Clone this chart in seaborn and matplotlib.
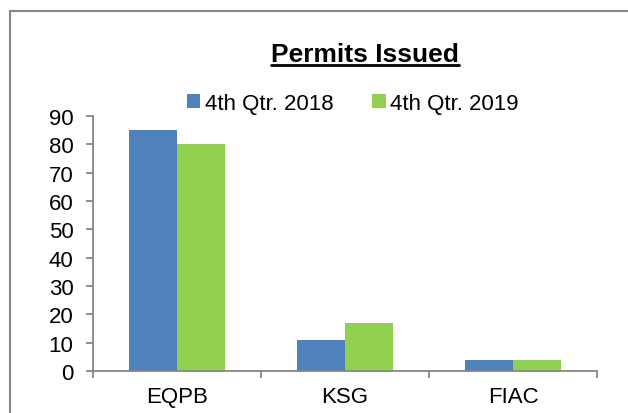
import pandas as pd
import seaborn as sns
import matplotlib.pyplot as plt
from matplotlib.lines import Line2D
from matplotlib.patches import Rectangle

categories = ['EQPB', 'KSG', 'FIAC']
q4_2018 = [85, 11, 4]
q4_2019 = [80, 17, 4]
series_names = ['4th Qtr. 2018', '4th Qtr. 2019']

df = pd.DataFrame({
    'agency': categories * 2,
    'permits': q4_2018 + q4_2019,
    'quarter': [series_names[0]] * 3 + [series_names[1]] * 3,
})

sns.set_style('white')
plt.rcParams['font.family'] = ['Liberation Sans', 'DejaVu Sans']
plt.rcParams['text.color'] = 'black'
plt.rcParams['xtick.color'] = 'black'
plt.rcParams['ytick.color'] = 'black'

fig = plt.figure(figsize=(6.28, 4.14), dpi=100)
ax = fig.add_axes([0.148, 0.1014, 0.803, 0.616])

sns.barplot(data=df, x='agency', y='permits', hue='quarter', ax=ax,
            palette=['#4F81BD', '#92D050'], width=0.57, gap=0, saturation=1,
            edgecolor='none')

ax.set_ylim(0, 90)
ax.set_xlim(-0.5, 2.5)
ax.set_yticks(range(0, 91, 10))
ax.set_xlabel('')
ax.set_ylabel('')

for side in ['top', 'right']:
    ax.spines[side].set_visible(False)
for side in ['left', 'bottom']:
    ax.spines[side].set_color('#868686')
    ax.spines[side].set_linewidth(1.3)

ax.tick_params(axis='y', which='major', length=5, width=1.3, color='#868686',
               labelcolor='black', labelsize=16, pad=9, left=True)
ax.tick_params(axis='x', which='major', length=0, labelsize=16, pad=11,
               labelcolor='black')
ax.set_xticks([-0.5, 0.5, 1.5, 2.5], minor=True)
ax.tick_params(axis='x', which='minor', length=5, width=1.3, color='#868686', bottom=True)

handles, labels = ax.get_legend_handles_labels()
ax.legend(handles, labels, loc='center', bbox_to_anchor=(0.562, 0.748),
          bbox_transform=fig.transFigure, ncol=2, frameon=False, fontsize=16,
          handlelength=0.6, handleheight=0.6, handletextpad=0.2, columnspacing=1.75)

title = fig.text(0.581, 0.867, 'Permits Issued', ha='center', va='center',
                 fontsize=19, fontweight='bold')

# underline the title
fig.canvas.draw()
bb = title.get_window_extent().transformed(fig.transFigure.inverted())
fig.add_artist(Line2D([bb.x0, bb.x1], [bb.y0 + 0.002, bb.y0 + 0.002],
                      transform=fig.transFigure, color='black', linewidth=2))

# chart frame
fig.add_artist(Rectangle((10 / 628, -0.1), 1.2, 1 - 12 / 414 + 0.1,
                         transform=fig.transFigure, fill=False,
                         edgecolor='#868686', linewidth=1.5))

fig.savefig('out.png', dpi=100)
